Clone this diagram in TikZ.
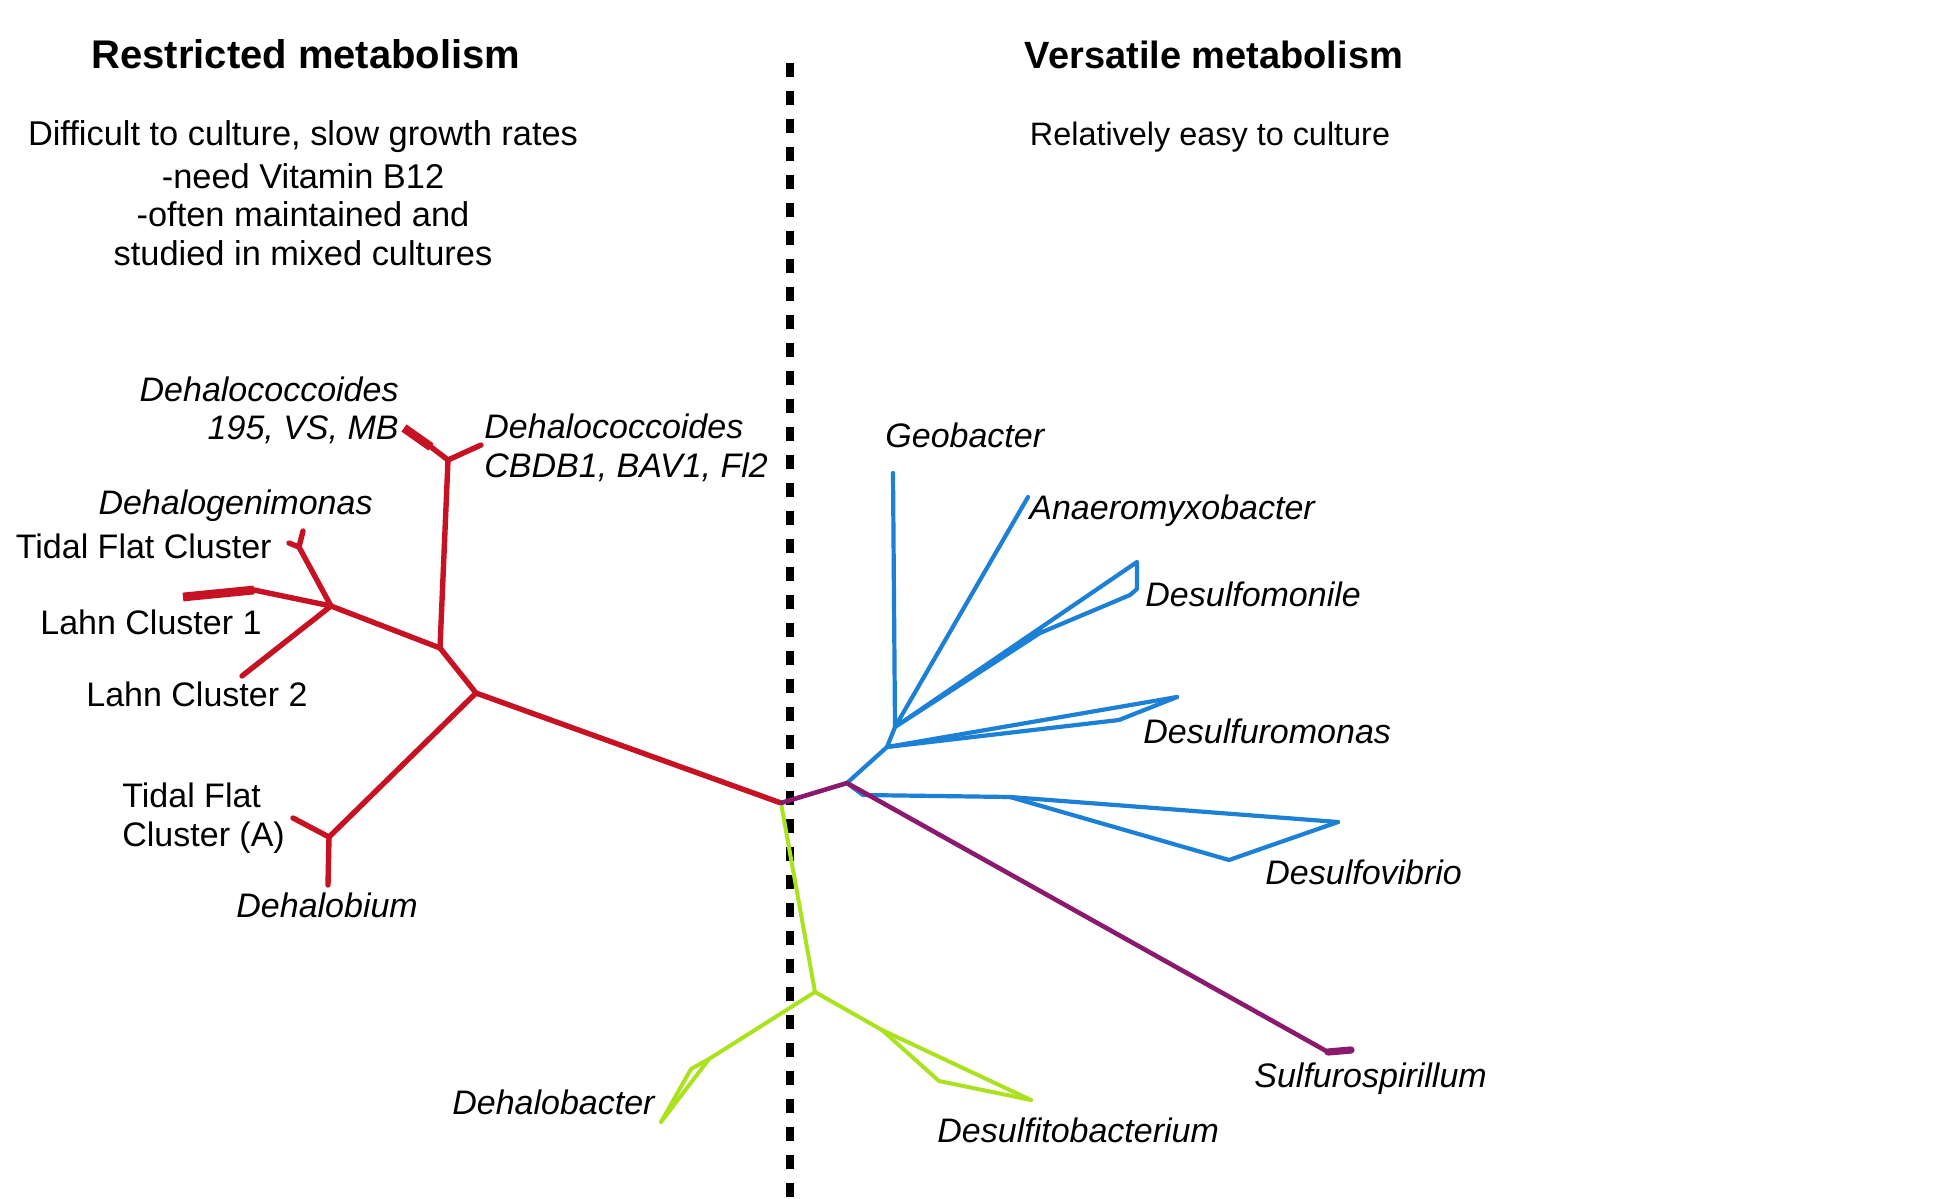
\documentclass[tikz,border=0pt]{standalone}
\usepackage{fontspec}
\setmainfont{Liberation Sans}
\definecolor{treered}{RGB}{198,18,34}
\definecolor{treeblue}{RGB}{28,128,214}
\definecolor{treegreen}{RGB}{170,226,30}
\definecolor{treepurple}{RGB}{140,26,108}
\begin{document}
\begin{tikzpicture}[x=0.5pt,y=-0.5pt,
  head/.style={inner sep=0pt, font=\fontsize{19}{22}\selectfont\bfseries},
  body/.style={inner sep=0pt, font=\fontsize{16.5}{20}\selectfont},
  lbl/.style={inner sep=0pt, font=\fontsize{17}{20}\selectfont\itshape},
  lblup/.style={inner sep=0pt, font=\fontsize{17}{20}\selectfont},
  redb/.style={draw=treered, line width=2.7pt, line join=round, line cap=round},
  redtip/.style={draw=treered, line width=4.4pt, line cap=butt},
  blueb/.style={draw=treeblue, line width=2.1pt, line join=round, line cap=round},
  greenb/.style={draw=treegreen, line width=2pt, line join=round, line cap=round},
  purpleb/.style={draw=treepurple, line width=2.3pt, line join=round, line cap=round},
  purpletip/.style={draw=treepurple, line width=3.6pt, line cap=round},
  divider/.style={draw=black, line width=4pt, dash pattern=on 7pt off 7pt}]
\useasboundingbox (0,0) rectangle (1954,1199);
\fill[white] (0,0) rectangle (1954,1199);

% divider
\coordinate (dtop) at (790,63);
\coordinate (dbot) at (790,1199);
\draw[divider] (dtop) -- (dbot);

% red clade
\coordinate (R0) at (781,803);
\coordinate (A) at (476,693);
\coordinate (B) at (440,648);
\coordinate (D) at (448,460);
\coordinate (D1) at (431,447);
\coordinate (D1t) at (404,428);
\coordinate (D2t) at (481,445);
\coordinate (E) at (331,606);
\coordinate (L1) at (254,590);
\coordinate (L1t) at (183,597);
\coordinate (L2t) at (242,676);
\coordinate (F) at (299,547);
\coordinate (Fa) at (303,531);
\coordinate (Fb) at (289,543);
\coordinate (C) at (329,837);
\coordinate (Ca) at (293,818);
\coordinate (Cb) at (328,885);
\draw[redb] (R0) -- (A) -- (B) -- (D) -- (D1);
\draw[redb] (D) -- (D2t);
\draw[redb] (B) -- (E) -- (L1);
\draw[redb] (E) -- (L2t);
\draw[redb] (E) -- (F) -- (Fa);
\draw[redb] (F) -- (Fb);
\draw[redb] (A) -- (C) -- (Ca);
\draw[redb] (C) -- (Cb);
\draw[redtip] (L1) -- (L1t);
\draw[redtip] (D1) -- (D1t);

% green clade
\coordinate (G1) at (815,992);
\coordinate (H) at (709,1059);
\coordinate (Hk) at (691,1069);
\coordinate (Ht) at (661,1122);
\coordinate (J) at (882,1030);
\coordinate (Jk) at (939,1081);
\coordinate (Jt) at (1031,1100);
\draw[greenb] (R0) -- (G1);
\draw[greenb] (G1) -- (H) -- (Ht);
\draw[greenb] (H) -- (Hk) -- (Ht);
\draw[greenb] (G1) -- (J) -- (Jt);
\draw[greenb] (J) -- (Jk) -- (Jt);

% blue clade
\coordinate (P) at (847,783);
\coordinate (Q) at (887,747);
\coordinate (Q2) at (895,727);
\coordinate (Geot) at (893,473);
\coordinate (Anat) at (1028,497);
\coordinate (K) at (1040,633);
\coordinate (Kt1) at (1137,562);
\coordinate (Kt3) at (1137,589);
\coordinate (Kt2) at (1130,595);
\coordinate (Mk) at (1119,720);
\coordinate (Mt) at (1177,697);
\coordinate (N) at (863,795);
\coordinate (N2) at (1010,797);
\coordinate (Nk) at (1229,860);
\coordinate (Nt) at (1338,822);
\draw[blueb] (P) -- (Q) -- (Q2) -- (Geot);
\draw[blueb] (Q2) -- (Anat);
\draw[blueb] (Q2) -- (Kt1) -- (Kt3) -- (Kt2) -- (K) -- (Q2);
\draw[blueb] (Q) -- (Mt);
\draw[blueb] (Q) -- (Mk) -- (Mt);
\draw[blueb] (P) -- (N) -- (N2) -- (Nt);
\draw[blueb] (N2) -- (Nk) -- (Nt);

% purple
\coordinate (S1) at (1328,1052);
\coordinate (S1t) at (1351,1050);
\draw[purpleb] (R0) -- (P) -- (S1);
\draw[purpletip] (S1) -- (S1t);

% headings and notes
\node[head, anchor=base, font=\fontsize{20}{23}\selectfont\bfseries] (h1) at (306,68) {Restricted metabolism};
\node[head, anchor=base] (h2) at (1214,68) {Versatile metabolism};
\node[body, anchor=base, font=\fontsize{17.2}{20}\selectfont] (b1) at (303,145) {Difficult to culture, slow growth rates};
\node[body, anchor=base, font=\fontsize{17.2}{20}\selectfont] (b2) at (303,188) {-need Vitamin B12};
\node[body, anchor=base, font=\fontsize{17.2}{20}\selectfont] (b3) at (303,226) {-often maintained and};
\node[body, anchor=base, font=\fontsize{17.2}{20}\selectfont] (b4) at (303,265) {studied in mixed cultures};
\node[body, anchor=base, font=\fontsize{16.2}{20}\selectfont] (b5) at (1210,145) {Relatively easy to culture};

% labels
\node[lbl, anchor=base east] (n195a) at (399,401) {Dehalococcoides};
\node[lbl, anchor=base east] (n195b) at (399,439) {195, VS, MB};
\node[lbl, anchor=base west] (ncbda) at (484,438) {Dehalococcoides};
\node[lbl, anchor=base west] (ncbdb) at (484,477) {CBDB1, BAV1, Fl2};
\node[lbl, anchor=base east] (ndgm) at (373,514) {Dehalogenimonas};
\node[lblup, anchor=base east] (ntfc) at (272,558) {Tidal Flat Cluster};
\node[lblup, anchor=base west] (nl1) at (40,634) {Lahn Cluster 1};
\node[lblup, anchor=base west] (nl2) at (86,706) {Lahn Cluster 2};
\node[lblup, anchor=base west] (ntfa) at (122,807) {Tidal Flat};
\node[lblup, anchor=base west] (ntfb) at (122,846) {Cluster (A)};
\node[lbl, anchor=base west] (ndhb) at (236,917) {Dehalobium};
\node[lbl, anchor=base east] (ndbac) at (655,1114) {Dehalobacter};
\node[lbl, anchor=base west] (ndsf) at (937,1142) {Desulfitobacterium};
\node[lbl, anchor=base west] (nsul) at (1254,1087) {Sulfurospirillum};
\node[lbl, anchor=base west] (ndvib) at (1265,884) {Desulfovibrio};
\node[lbl, anchor=base west] (ndrm) at (1143,743) {Desulfuromonas};
\node[lbl, anchor=base west] (ndmn) at (1145,606) {Desulfomonile};
\node[lbl, anchor=base west] (nana) at (1029,519) {Anaeromyxobacter};
\node[lbl, anchor=base west] (ngeo) at (885,447) {Geobacter};
\end{tikzpicture}
\end{document}
